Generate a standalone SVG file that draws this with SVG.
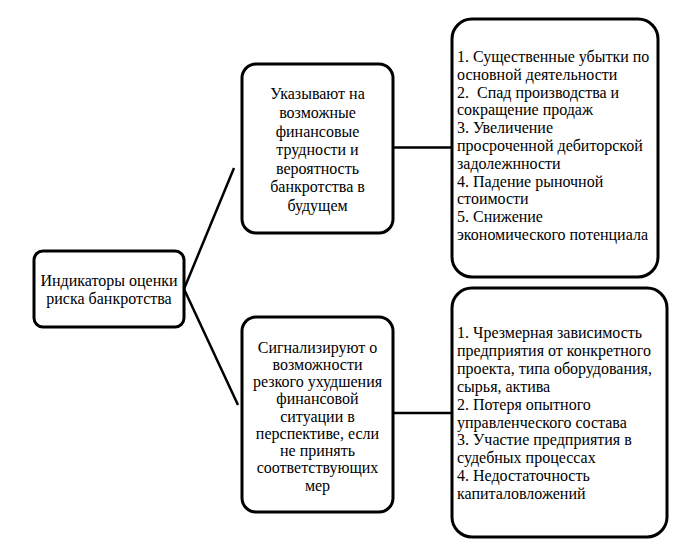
<svg xmlns="http://www.w3.org/2000/svg" width="700" height="549" viewBox="0 0 700 549">
<style>
.box{fill:#fff;stroke:#000;stroke-width:3}
.t{font-family:'Liberation Serif','Times New Roman',serif;font-size:16px;fill:#000}
.c{text-anchor:middle}
.conn{stroke:#000;stroke-width:2.5;fill:none}
</style>
<rect width="700" height="549" fill="#fff"/>
<g id="connectors">
<line class="conn" x1="184" y1="289" x2="234" y2="168"/>
<line class="conn" x1="184" y1="289" x2="238" y2="405"/>
<line class="conn" x1="393" y1="147.5" x2="452" y2="147.5"/>
<line class="conn" x1="393" y1="413" x2="452" y2="413"/>
</g>
<g id="root">
<rect class="box" x="34" y="251" width="150" height="76" rx="9"/>
<text class="t c"><tspan x="109" y="286">Индикаторы оценки</tspan><tspan x="109" y="304">риска банкротства</tspan></text>
</g>
<g id="upper">
<rect class="box" x="242" y="64" width="151" height="169" rx="14"/>
<text class="t c"><tspan x="317.5" y="99">Указывают на</tspan><tspan x="317.5" y="118">возможные</tspan><tspan x="317.5" y="136.5">финансовые</tspan><tspan x="317.5" y="155">трудности и</tspan><tspan x="317.5" y="173.5">вероятность</tspan><tspan x="317.5" y="192">банкротства в</tspan><tspan x="317.5" y="210.5">будущем</tspan></text>
</g>
<g id="lower">
<rect class="box" x="242" y="317" width="151" height="195" rx="14"/>
<text class="t c"><tspan x="317.5" y="352.5">Сигнализируют о</tspan><tspan x="317.5" y="369.8">возможности</tspan><tspan x="317.5" y="387">резкого ухудшения</tspan><tspan x="317.5" y="404.3">финансовой</tspan><tspan x="317.5" y="421.5">ситуации в</tspan><tspan x="317.5" y="438.8">перспективе, если</tspan><tspan x="317.5" y="456">не принять</tspan><tspan x="317.5" y="473.3">соответствующих</tspan><tspan x="317.5" y="490.5">мер</tspan></text>
</g>
<g id="upper-list">
<rect class="box" x="452" y="19" width="206" height="258" rx="20"/>
<text class="t" xml:space="preserve"><tspan x="457" y="62">1. Существенные убытки по</tspan><tspan x="457" y="79.8">основной деятельности</tspan><tspan x="457" y="97.6">2.  Спад производства и</tspan><tspan x="457" y="115.4">сокращение продаж</tspan><tspan x="457" y="133.2">3. Увеличение</tspan><tspan x="457" y="151">просроченной дебиторской</tspan><tspan x="457" y="168.8">задолежнности</tspan><tspan x="457" y="186.6">4. Падение рыночной</tspan><tspan x="457" y="204.4">стоимости</tspan><tspan x="457" y="222.2">5. Снижение</tspan><tspan x="457" y="240">экономического потенциала</tspan></text>
</g>
<g id="lower-list">
<rect class="box" x="452" y="288" width="215" height="249" rx="20"/>
<text class="t"><tspan x="457" y="338">1. Чрезмерная зависимость</tspan><tspan x="457" y="355.9">предприятия от конкретного</tspan><tspan x="457" y="373.8">проекта, типа оборудования,</tspan><tspan x="457" y="391.7">сырья, актива</tspan><tspan x="457" y="409.6">2. Потеря опытного</tspan><tspan x="457" y="427.5">управленческого состава</tspan><tspan x="457" y="445.4">3. Участие предприятия в</tspan><tspan x="457" y="463.3">судебных процессах</tspan><tspan x="457" y="481.2">4. Недостаточность</tspan><tspan x="457" y="499">капиталовложений</tspan></text>
</g>
</svg>
